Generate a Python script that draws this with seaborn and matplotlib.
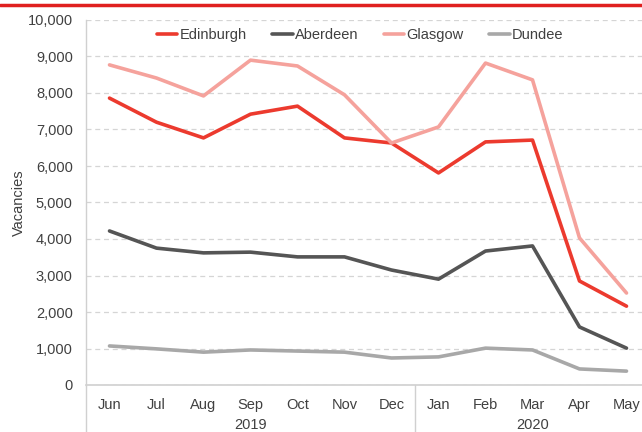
import matplotlib
matplotlib.use("Agg")
import matplotlib.pyplot as plt
import seaborn as sns
import pandas as pd
from matplotlib.lines import Line2D

months = ["Jun", "Jul", "Aug", "Sep", "Oct", "Nov", "Dec", "Jan", "Feb", "Mar", "Apr", "May"]
years = ["2019", "2020"]
edinburgh = [7860, 7200, 6770, 7420, 7640, 6770, 6630, 5810, 6660, 6710, 2850, 2160]
aberdeen = [4220, 3750, 3620, 3640, 3510, 3510, 3150, 2900, 3670, 3810, 1590, 1010]
glasgow = [8770, 8410, 7920, 8900, 8740, 7950, 6630, 7070, 8820, 8360, 4030, 2520]
dundee = [1070, 990, 900, 960, 930, 900, 740, 770, 1010, 960, 440, 380]
cities = ["Edinburgh", "Aberdeen", "Glasgow", "Dundee"]
colors = ["#EC3A2E", "#555555", "#F5A29C", "#A8A8A8"]

series = dict(zip(cities, [edinburgh, aberdeen, glasgow, dundee]))
rows = []
for c in cities:
    for i, (m, v) in enumerate(zip(months, series[c])):
        rows.append({"idx": i, "month": m, "city": c, "value": v})
df = pd.DataFrame(rows)

sns.set_theme(style="white")
plt.rcParams["font.family"] = ["Liberation Sans", "DejaVu Sans"]

FS = 10.5
fig = plt.figure(figsize=(6.42, 4.32), dpi=100)
ax = fig.add_axes([86/642, 1-385/432, (650-86)/642, (385-20)/432])

sns.lineplot(data=df, x="idx", y="value", hue="city", hue_order=cities,
             palette=dict(zip(cities, colors)), linewidth=2.6, ax=ax, legend=False)

ax.set_xlim(-0.5, len(months) - 0.5)
ax.set_ylim(0, 10000)
ax.set_yticks(range(0, 10001, 1000))
ax.set_yticklabels([f"{v:,}" for v in range(0, 10001, 1000)], color="#404040", fontsize=FS)
ax.set_xticks(range(len(months)))
ax.set_xticklabels(months, color="#404040", fontsize=FS)
ax.tick_params(axis="y", length=0, pad=9.5)
ax.tick_params(axis="x", length=0, pad=9.5)
ax.set_xlabel("")
ax.set_ylabel("Vacancies", color="#404040", fontsize=FS, labelpad=1)

ax.yaxis.grid(True, linestyle=(0, (4, 3)), color="#D5D5D5", linewidth=0.9)
ax.set_axisbelow(True)
for s in ["top", "right"]:
    ax.spines[s].set_visible(False)
ax.spines["left"].set_color("#D0D0D0")
ax.spines["bottom"].set_color("#D0D0D0")
ax.spines["left"].set_linewidth(1.0)
ax.spines["bottom"].set_linewidth(1.2)

# extend left spine and separator below axis
trans = ax.get_xaxis_transform()
for xv in [-0.5, 6.5]:
    ax.plot([xv, xv], [0, -0.2], transform=trans, color="#D0D0D0", lw=1.0, clip_on=False)
ax.text(3, -0.11, years[0], transform=trans, ha="center", va="center", fontsize=FS, color="#404040")
ax.text(9, -0.11, years[1], transform=trans, ha="center", va="center", fontsize=FS, color="#404040")

handles = [Line2D([0], [0], color=c, lw=2.6) for c in colors]
ax.legend(handles, cities, loc="center", bbox_to_anchor=(0.486, 0.958), ncol=4, frameon=False,
          fontsize=FS, handlelength=1.4, handletextpad=0.15, columnspacing=1.75,
          labelcolor="#404040")

# red top rule
fig.add_artist(Line2D([0, 1], [1-5/432, 1-5/432], color="#E0201F", lw=2.5, transform=fig.transFigure))

fig.savefig("out.png", dpi=100)
